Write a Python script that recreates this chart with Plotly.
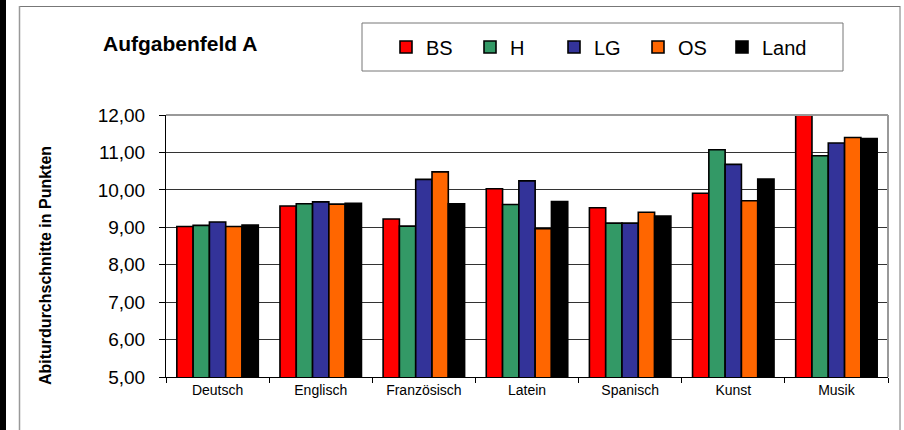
import plotly.graph_objects as go

# Abiturdurchschnitte nach Fach und Region
faecher = ["Deutsch", "Englisch", "Französisch", "Latein", "Spanisch", "Kunst", "Musik"]

bs = [9.02, 9.57, 9.22, 10.03, 9.52, 9.91, 12.40]
h = [9.05, 9.63, 9.03, 9.61, 9.11, 11.07, 10.91]
lg = [9.14, 9.68, 10.28, 10.24, 9.11, 10.68, 11.25]
os_ = [9.02, 9.62, 10.48, 8.96, 9.40, 9.71, 11.40]
land = [9.06, 9.64, 9.63, 9.69, 9.30, 10.29, 11.37]

reihen = [
    ("BS", bs, "#FF0000"),
    ("H", h, "#339966"),
    ("LG", lg, "#333399"),
    ("OS", os_, "#FF6600"),
    ("Land", land, "#000000"),
]

FONT = "Arial, Liberation Sans, sans-serif"

# plot area in pixels
L, R, T, B = 166, 888, 115, 377


def px_x(p):
    return (p - L) / (R - L)


def px_y(p):
    return (B - p) / (B - T)


fig = go.Figure()

for name, werte, farbe in reihen:
    fig.add_trace(go.Bar(
        name=name,
        x=faecher,
        y=werte,
        marker=dict(color=farbe, line=dict(color="black", width=1.6)),
    ))

shapes = [
    # black strip on the left edge
    dict(type="rect", xref="paper", yref="paper",
         x0=px_x(-2), x1=px_x(6), y0=px_y(440), y1=px_y(-10),
         fillcolor="black", line=dict(width=0), layer="below"),
    # outer chart frame
    dict(type="line", xref="paper", yref="paper",
         x0=px_x(19), x1=px_x(900), y0=px_y(6.5), y1=px_y(6.5),
         line=dict(color="#777777", width=1)),
    dict(type="line", xref="paper", yref="paper",
         x0=px_x(19.5), x1=px_x(19.5), y0=px_y(6), y1=px_y(440),
         line=dict(color="#999999", width=1.5)),
    dict(type="line", xref="paper", yref="paper",
         x0=px_x(900), x1=px_x(900), y0=px_y(6), y1=px_y(440),
         line=dict(color="#777777", width=1)),
    # legend box
    dict(type="rect", xref="paper", yref="paper",
         x0=px_x(362), x1=px_x(843), y0=px_y(71), y1=px_y(23),
         line=dict(color="#777777", width=1)),
    # plot area border top / right
    dict(type="line", xref="paper", yref="paper",
         x0=0, x1=1, y0=1, y1=1,
         line=dict(color="#999999", width=2)),
    dict(type="line", xref="paper", yref="paper",
         x0=1, x1=1, y0=0, y1=1,
         line=dict(color="#999999", width=2)),
]

annotations = [
    dict(text="<b>Aufgabenfeld A</b>", xref="paper", yref="paper",
         x=px_x(101), y=px_y(43), xanchor="left", yanchor="middle",
         showarrow=False, font=dict(size=21, color="black", family=FONT)),
    dict(text="<b>Abiturdurchschnitte in Punkten</b>", xref="paper", yref="paper",
         x=px_x(45), y=px_y(266), xanchor="center", yanchor="middle",
         textangle=-90, showarrow=False,
         font=dict(size=16, color="black", family=FONT)),
]

fig.update_layout(
    width=904,
    height=430,
    paper_bgcolor="white",
    plot_bgcolor="white",
    font=dict(family=FONT, color="black"),
    margin=dict(l=L, r=904 - R, t=T, b=430 - B),
    barmode="group",
    bargap=0.21,
    bargroupgap=0,
    separators=",.",
    showlegend=True,
    legend=dict(
        orientation="h",
        x=px_x(386), y=px_y(47),
        xanchor="left", yanchor="middle",
        font=dict(size=20, family=FONT),
        bgcolor="rgba(0,0,0,0)",
        borderwidth=0,
        entrywidth=39,
        entrywidthmode="pixels",
        itemclick=False,
    ),
    shapes=shapes,
    annotations=annotations,
)

fig.update_xaxes(
    showline=True, linecolor="black", linewidth=1,
    ticks="outside", tickson="boundaries", ticklen=5, tickcolor="black",
    tickfont=dict(size=14, family=FONT),
    showgrid=False,
)

fig.update_yaxes(
    range=[5, 12], dtick=1, tickformat=".2f",
    showline=True, linecolor="black", linewidth=1,
    ticks="outside", ticklen=6, tickcolor="black",
    ticklabelstandoff=10,
    tickfont=dict(size=19, family=FONT),
    showgrid=True, gridcolor="#333333", gridwidth=1,
    zeroline=False,
)

# no page margin so the figure sits at the window's top-left corner
fig.write_html(
    "out.html",
    config={"displayModeBar": False},
    post_script="document.body.style.margin = '0';",
)
